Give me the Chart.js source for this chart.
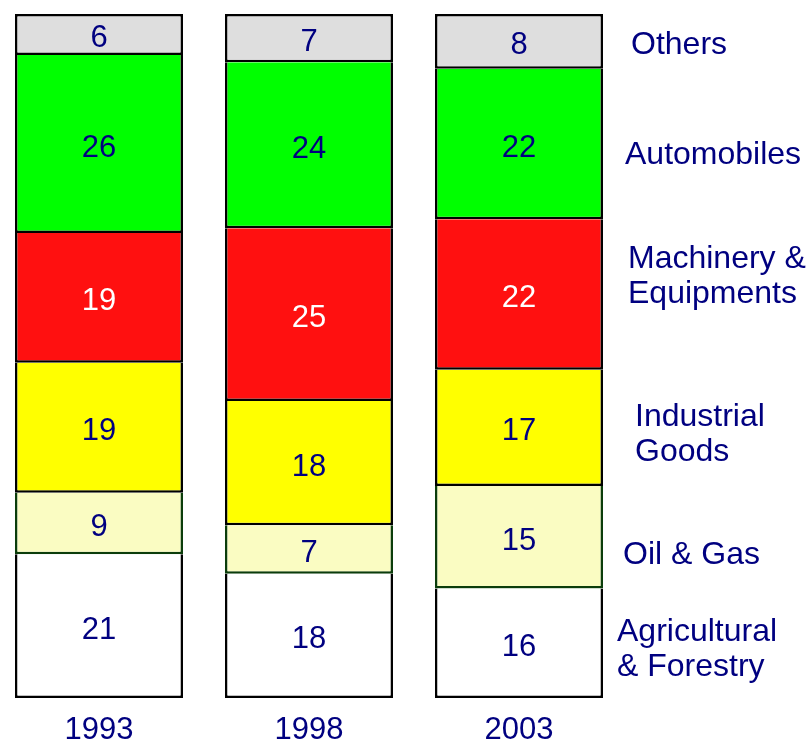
<!DOCTYPE html>
<html>
<head>
<meta charset="utf-8">
<script src="https://cdn.jsdelivr.net/npm/chart.js@4.4.1/dist/chart.umd.min.js"></script>
<style>
  html, body { margin: 0; padding: 0; background: #fff; }
  #wrap { width: 807px; height: 740px; }
</style>
</head>
<body>
<div id="wrap"><canvas id="chart" width="807" height="740"></canvas></div>
<script>
// values (percent share per year)
const years = ['1993', '1998', '2003'];
const agricultural = [21, 18, 16];
const oilGas = [9, 7, 15];
const industrial = [19, 18, 17];
const machinery = [19, 25, 22];
const automobiles = [26, 24, 22];
const others = [6, 7, 8];

// legend text on the right, bottom segment first
const sideLabels = [
  ['Agricultural', '& Forestry'],
  ['Oil & Gas'],
  ['Industrial', 'Goods'],
  ['Machinery &', 'Equipments'],
  ['Automobiles'],
  ['Others']
];

const NAVY = '#000080';
const FONT = '"Liberation Sans", Arial, sans-serif';

const series = [agricultural, oilGas, industrial, machinery, automobiles, others];
const totals = years.map((_, i) => series.reduce((s, arr) => s + arr[i], 0));

// each column is drawn as a 100% stack
function toPoints(values) {
  return values.map((v, i) => ({ x: i, y: v / totals[i] * 100, raw: v }));
}

const styles = [
  { bg: '#ffffff', border: '#000000', text: NAVY },
  { bg: '#fafcc2', border: '#0b3d0b', text: NAVY },
  { bg: '#ffff00', border: '#000000', text: NAVY },
  { bg: '#ff1010', border: '#000000', text: '#ffffff' },
  { bg: '#00ff00', border: '#000000', text: NAVY },
  { bg: '#dedede', border: '#000000', text: NAVY }
];

const datasets = series.map((values, k) => ({
  label: sideLabels[k].join(' '),
  data: toPoints(values),
  backgroundColor: styles[k].bg,
  borderColor: styles[k].border,
  borderWidth: 2.5,
  borderSkipped: k === series.length - 1 ? false : 'end',
  textColor: styles[k].text
}));

// right-hand labels: pixel layout only
const sideLabelPos = [
  { x: 617, y: 632 },
  { x: 623, y: 555 },
  { x: 635, y: 417 },
  { x: 628, y: 259 },
  { x: 625, y: 155 },
  { x: 631, y: 45 }
];

const valueLabels = {
  id: 'valueLabels',
  afterDatasetsDraw(chart) {
    const ctx = chart.ctx;
    ctx.save();
    ctx.font = '31px ' + FONT;
    ctx.textAlign = 'center';
    ctx.textBaseline = 'middle';
    chart.data.datasets.forEach((ds, k) => {
      const meta = chart.getDatasetMeta(k);
      meta.data.forEach((bar, i) => {
        ctx.fillStyle = ds.textColor;
        ctx.fillText(String(ds.data[i].raw), bar.x, (bar.y + bar.base) / 2 + 4);
      });
    });
    ctx.restore();
  }
};

const sideText = {
  id: 'sideText',
  afterDraw(chart) {
    const ctx = chart.ctx;
    ctx.save();
    ctx.font = '32px ' + FONT;
    ctx.textAlign = 'left';
    ctx.textBaseline = 'middle';
    ctx.fillStyle = NAVY;
    sideLabels.forEach((lines, k) => {
      const p = sideLabelPos[k];
      lines.forEach((line, j) => ctx.fillText(line, p.x, p.y + j * 35.5));
    });
    ctx.restore();
  }
};

new Chart(document.getElementById('chart'), {
  type: 'bar',
  data: { datasets: datasets },
  options: {
    responsive: false,
    animation: false,
    layout: { padding: { top: 14, left: 0, right: 0, bottom: 0 } },
    datasets: { bar: { barPercentage: 0.8, categoryPercentage: 1 } },
    scales: {
      x: {
        type: 'linear',
        stacked: true,
        offset: false,
        min: -0.4714,
        max: 3.3714,
        afterBuildTicks: (scale) => { scale.ticks = years.map((_, i) => ({ value: i })); },
        afterFit: (scale) => { scale.height = 42; },
        ticks: {
          autoSkip: false,
          maxRotation: 0,
          padding: 20,
          color: NAVY,
          font: { family: FONT, size: 31, lineHeight: 0.8 },
          callback: (v) => years[v] || ''
        },
        grid: { display: false, drawTicks: false },
        border: { display: false }
      },
      y: {
        stacked: true,
        display: false,
        min: 0,
        max: 100
      }
    },
    plugins: {
      legend: { display: false },
      tooltip: { enabled: false }
    }
  },
  plugins: [valueLabels, sideText]
});
</script>
</body>
</html>
